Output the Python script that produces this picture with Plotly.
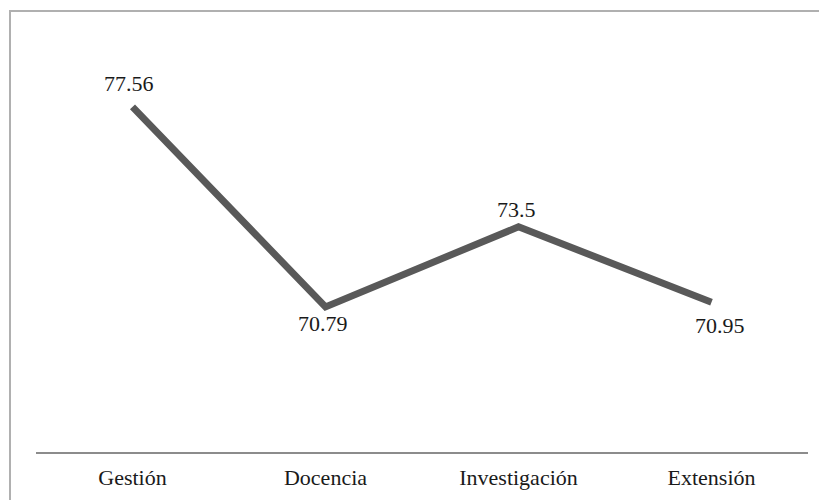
import plotly.graph_objects as go

categories = ["Gestión", "Docencia", "Investigación", "Extensión"]
values = [77.56, 70.79, 73.5, 70.95]
labels = ["77.56", "70.79", "73.5", "70.95"]
label_xshift = [-4, -3, -2, 8]
label_yshift = [23, -17, 17, -23]

font_fam = "Liberation Serif, Times New Roman, serif"
txt_color = "#1a1a1a"

fig = go.Figure(go.Scatter(
    x=categories, y=values, mode="lines",
    line=dict(color="#595959", width=7),
    hoverinfo="skip",
))

for c, v, t, xs, ys in zip(categories, values, labels, label_xshift, label_yshift):
    fig.add_annotation(x=c, y=v, text=t, showarrow=False, xshift=xs, yshift=ys,
                       font=dict(family=font_fam, size=22, color=txt_color))

# page has an 8px body margin
W, H = 827, 500
L, R, T, B = 28, 27, 30, 56
pw, ph = W - L - R, H - T - B

fig.update_layout(
    width=W, height=H,
    margin=dict(l=L, r=R, t=T, b=B, pad=0),
    paper_bgcolor="white", plot_bgcolor="white",
    showlegend=False,
    xaxis=dict(range=[-0.5, 3.5], showgrid=False, zeroline=False,
               showline=True, linecolor="#8c8c8c", linewidth=2,
               ticks="", ticklabelstandoff=5,
               tickfont=dict(family=font_fam, size=22, color=txt_color)),
    yaxis=dict(range=[65.88, 79.89], visible=False),
    shapes=[dict(type="rect", xref="paper", yref="paper",
                 x0=(2 - L) / pw, x1=(W + 30 - L) / pw,
                 y0=-(H + 30 - (H - B)) / ph, y1=((H - B) - 3) / ph,
                 line=dict(color="#b0b0b0", width=2), fillcolor="rgba(0,0,0,0)",
                 layer="below")],
)

fig.write_html("out.html")
